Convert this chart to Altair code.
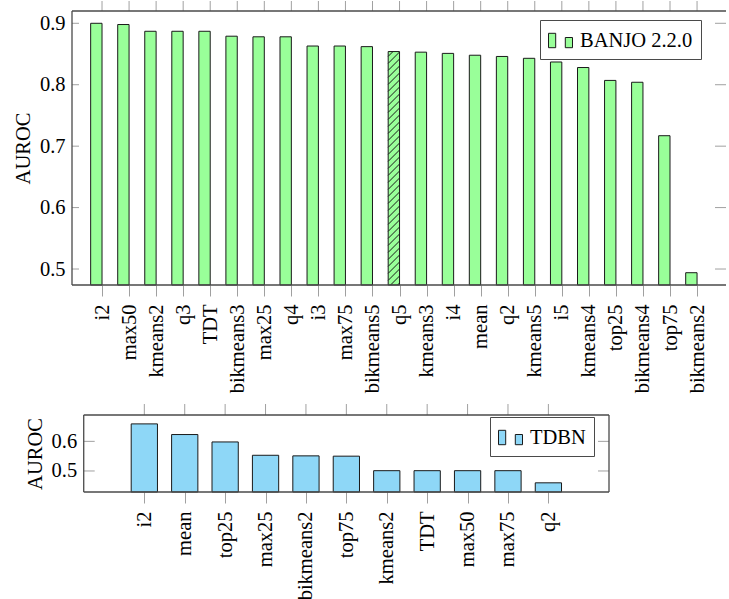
import altair as alt
import pandas as pd

# AUROC per discretisation method, BANJO 2.2.0 (sorted, best first)
banjo_methods = ["i2", "max50", "kmeans2", "q3", "TDT", "bikmeans3", "max25", "q4",
                 "i3", "max75", "bikmeans5", "q5", "kmeans3", "i4", "mean", "q2",
                 "kmeans5", "i5", "kmeans4", "top25", "bikmeans4", "top75", "bikmeans2"]
banjo_auroc = [0.900, 0.898, 0.887, 0.887, 0.887, 0.879, 0.878, 0.878,
               0.863, 0.863, 0.862, 0.854, 0.853, 0.851, 0.848, 0.846,
               0.843, 0.837, 0.828, 0.807, 0.804, 0.717, 0.494]
banjo_hatched = ["q5"]

# AUROC per discretisation method, TDBN
tdbn_methods = ["i2", "mean", "top25", "max25", "bikmeans2", "top75",
                "kmeans2", "TDT", "max50", "max75", "q2"]
tdbn_auroc = [0.659, 0.623, 0.598, 0.553, 0.551, 0.550,
              0.501, 0.501, 0.501, 0.501, 0.460]

FONT = "Liberation Serif"
FS = 20.5
EDGE = "#1a1a1a"
FRAME = "#4a4a4a"
TICK = "#a0a0a0"
GREEN = "#99ff99"
BLUE = "#8ed7f7"
# legend glyph: two small bars side by side
GLYPH = "M-1,-0.6H-0.4V0.6H-1Z M0.4,-0.25H1V0.6H0.4Z"


def panel(methods, values, series, fill, x_dom, y_dom, width, height,
          bar_lo, bar_hi, y_ticks, left_tick, right_tick, frame_left,
          frame_right, draw_right, legend_xy, axis_offset, top_tick,
          hatched=()):
    n = len(methods)
    idx = list(range(n))
    px_x = width / (x_dom[1] - x_dom[0])
    px_y = height / (y_dom[1] - y_dom[0])
    x_scale = alt.Scale(domain=x_dom, nice=False, zero=False)
    y_scale = alt.Scale(domain=y_dom, nice=False, zero=False)
    label_expr = "[" + ",".join(f"'{m}'" for m in methods) + "][datum.value]"

    # one axis definition per channel, shared by every layer
    x_axis = alt.Axis(
        orient="bottom", values=idx, labelExpr=label_expr, labelAngle=270,
        labelAlign="right", labelBaseline="middle", labelFont=FONT,
        labelFontSize=FS, labelColor="black", labelPadding=8,
        labelOverlap=False, labelFlush=False, tickColor=TICK, tickSize=11,
        tickWidth=1, domain=False, grid=False, title=None)
    y_axis = alt.Axis(
        orient="left", values=y_ticks, format=".1f", ticks=False, tickSize=0,
        domain=False, grid=False, labelPadding=7, labelFont=FONT,
        labelFontSize=FS, labelColor="black", labelOverlap=False, title="AUROC",
        titleFont=FONT, titleFontSize=FS, titleFontWeight="normal",
        titleColor="black", titlePadding=6, offset=axis_offset)

    bars_df = pd.DataFrame({
        "idx": idx, "method": methods, "auroc": values, "series": series,
        "lo": [i + bar_lo for i in idx], "hi": [i + bar_hi for i in idx],
    })

    bars = alt.Chart(bars_df).mark_bar(stroke=EDGE, strokeWidth=1, opacity=1).encode(
        x=alt.X("lo:Q", scale=x_scale, axis=x_axis, title=None),
        x2="hi:Q",
        y=alt.Y("auroc:Q", scale=y_scale, axis=y_axis, title="AUROC"),
        y2=alt.datum(y_dom[0]),
        color=alt.Color("series:N", scale=alt.Scale(domain=[series], range=[fill]),
                        legend=alt.Legend(
                            title=None, orient="none", legendX=legend_xy[0],
                            legendY=legend_xy[1], symbolType=GLYPH, symbolSize=576,
                            symbolStrokeColor=EDGE, symbolStrokeWidth=1,
                            symbolOpacity=1, labelFont=FONT, labelFontSize=FS,
                            labelColor="black", labelOffset=7, padding=8,
                            strokeColor=FRAME, fillColor="white", cornerRadius=0)),
    )

    layers = [bars]

    # diagonal hatching inside the highlighted bars
    segs = []
    for m in hatched:
        i = methods.index(m)
        w = (bar_hi - bar_lo) * px_x
        h = (values[i] - y_dom[0]) * px_y
        step = 7.0
        c = -w + 2.0
        while c < h:
            u0, u1 = max(0.0, -c), min(w, h - c)
            if u1 > u0:
                segs.append({
                    "x0": i + bar_lo + u0 / px_x, "x1": i + bar_lo + u1 / px_x,
                    "y0": y_dom[0] + (u0 + c) / px_y, "y1": y_dom[0] + (u1 + c) / px_y,
                })
            c += step

    # short marks: inward y ticks on both sides, x ticks above the top edge
    ticks = []
    for t in y_ticks:
        ticks.append({"x0": frame_left, "x1": frame_left + left_tick / px_x,
                      "y0": t, "y1": t})
        ticks.append({"x0": frame_right - right_tick / px_x, "x1": frame_right,
                      "y0": t, "y1": t})
    for i in idx:
        ticks.append({"x0": i, "x1": i, "y0": y_dom[1],
                      "y1": y_dom[1] + top_tick / px_y})

    # plot frame
    frame = [
        {"x0": frame_left, "x1": frame_left, "y0": y_dom[0], "y1": y_dom[1]},
        {"x0": frame_left, "x1": frame_right, "y0": y_dom[0], "y1": y_dom[0]},
        {"x0": frame_left, "x1": frame_right, "y0": y_dom[1], "y1": y_dom[1]},
    ]
    if draw_right:
        frame.append({"x0": frame_right, "x1": frame_right,
                      "y0": y_dom[0], "y1": y_dom[1]})

    def segments(rows, color, width_):
        return alt.Chart(pd.DataFrame(rows)).mark_rule(
            color=color, strokeWidth=width_).encode(
            x=alt.X("x0:Q", scale=x_scale, axis=x_axis, title=None), x2="x1:Q",
            y=alt.Y("y0:Q", scale=y_scale, axis=y_axis, title="AUROC"), y2="y1:Q")

    if segs:
        layers.append(segments(segs, EDGE, 1))
    layers.append(segments(ticks, TICK, 1))
    layers.append(segments(frame, FRAME, 1.3))

    return alt.layer(*layers).properties(width=width, height=height)


top = panel(banjo_methods, banjo_auroc, "BANJO 2.2.0", GREEN,
            x_dom=[-1.11, 23.07], y_dom=[0.474, 0.920], width=654, height=274,
            bar_lo=-0.42, bar_hi=0.0, y_ticks=[0.5, 0.6, 0.7, 0.8, 0.9],
            left_tick=7, right_tick=11, frame_left=-1.11, frame_right=23.07,
            draw_right=False, legend_xy=(468, 9), axis_offset=0, top_tick=10,
            hatched=banjo_hatched)

bottom = panel(tdbn_methods, tdbn_auroc, "TDBN", BLUE,
               x_dom=[-1.79, 11.5], y_dom=[0.429, 0.689], width=537, height=77,
               bar_lo=-0.325, bar_hi=0.325, y_ticks=[0.5, 0.6],
               left_tick=11, right_tick=11, frame_left=-1.5, frame_right=11.5,
               draw_right=True, legend_xy=(418, 2), axis_offset=-11.7, top_tick=11)

chart = alt.vconcat(top, bottom, spacing=10).resolve_scale(
    x="independent", y="independent", color="independent"
).resolve_legend(color="independent").properties(
    padding={"left": 13, "top": 0, "right": 0, "bottom": 0},
    background="white",
).configure_view(stroke=None)

chart.save("out.html", embed_options={"renderer": "svg", "actions": False})
